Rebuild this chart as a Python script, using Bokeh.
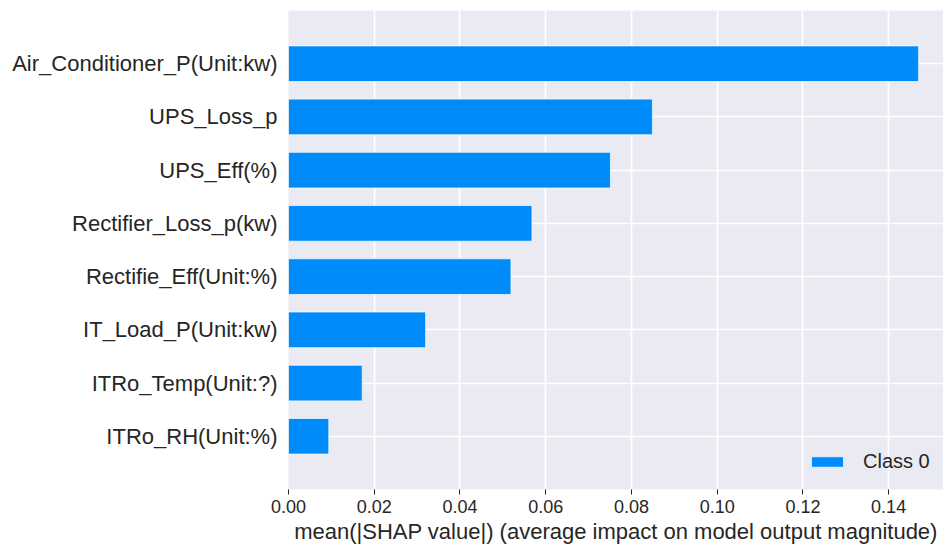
from bokeh.plotting import figure
from bokeh.models import (Range1d, FixedTicker, Legend, LegendItem,
                          ColumnDataSource, NumeralTickFormatter)
from bokeh.embed import file_html
from bokeh.resources import INLINE

# Features ordered bottom -> top, with their mean |SHAP| value
features = [
    "ITRo_RH(Unit:%)",
    "ITRo_Temp(Unit:?)",
    "IT_Load_P(Unit:kw)",
    "Rectifie_Eff(Unit:%)",
    "Rectifier_Loss_p(kw)",
    "UPS_Eff(%)",
    "UPS_Loss_p",
    "Air_Conditioner_P(Unit:kw)",
]
mean_abs_shap = [0.0094, 0.0172, 0.0320, 0.0519, 0.0568, 0.0751, 0.0849, 0.1470]
x_ticks = [0.00, 0.02, 0.04, 0.06, 0.08, 0.10, 0.12, 0.14]
series_name = "Class 0"
x_label = "mean(|SHAP value|) (average impact on model output magnitude)"

FONT = "Liberation Sans"
TEXT = "#262626"
BAR = "#008bfb"

positions = list(range(len(features)))
src = ColumnDataSource(dict(y=positions, value=mean_abs_shap, name=features))

p = figure(width=943, height=549, output_backend="svg", toolbar_location=None,
           x_range=Range1d(0, 0.1528), y_range=Range1d(-1, len(features)),
           min_border_left=288, min_border_right=0, min_border_top=10,
           min_border_bottom=60)
p.background_fill_color = "#eaeaf2"
p.border_fill_color = "white"
p.outline_line_color = None

bars = p.hbar(y="y", left=0, right="value", height=0.67, source=src,
              fill_color=BAR, line_color="white", line_width=1, line_alpha=0.7)

# grid
p.xgrid.ticker = FixedTicker(ticks=x_ticks)
p.ygrid.ticker = FixedTicker(ticks=positions)
for g in (p.xgrid, p.ygrid):
    g.grid_line_color = "white"
    g.grid_line_width = 1.7

# x axis
xa = p.xaxis[0]
xa.ticker = FixedTicker(ticks=x_ticks)
xa.formatter = NumeralTickFormatter(format="0.00")
xa.axis_line_color = None
xa.major_tick_in = 0
xa.major_tick_out = 5
xa.major_tick_line_color = TEXT
xa.minor_tick_line_color = None
xa.major_label_text_font = FONT
xa.major_label_text_font_size = "18px"
xa.major_label_text_color = TEXT
xa.major_label_standoff = 5
xa.axis_label = x_label
xa.axis_label_text_font = FONT
xa.axis_label_text_font_size = "22px"
xa.axis_label_text_font_style = "normal"
xa.axis_label_text_color = TEXT
xa.axis_label_standoff = 3

# y axis: feature names
ya = p.yaxis[0]
ya.ticker = FixedTicker(ticks=positions)
ya.major_label_overrides = {i: f for i, f in enumerate(features)}
ya.axis_line_color = None
ya.major_tick_in = 0
ya.major_tick_out = 0
ya.minor_tick_line_color = None
ya.major_label_text_font = FONT
ya.major_label_text_font_size = "22px"
ya.major_label_text_color = TEXT
ya.major_label_standoff = 11

legend = Legend(items=[LegendItem(label=series_name, renderers=[bars])],
                location=(519, 16), padding=0, margin=0, spacing=0,
                glyph_width=40, glyph_height=13, label_standoff=16,
                label_height=24, label_text_font=FONT,
                label_text_font_size="20px", label_text_color=TEXT,
                border_line_color=None, background_fill_alpha=0)
p.add_layout(legend)

open("out.html", "w").write(file_html(p, INLINE))
